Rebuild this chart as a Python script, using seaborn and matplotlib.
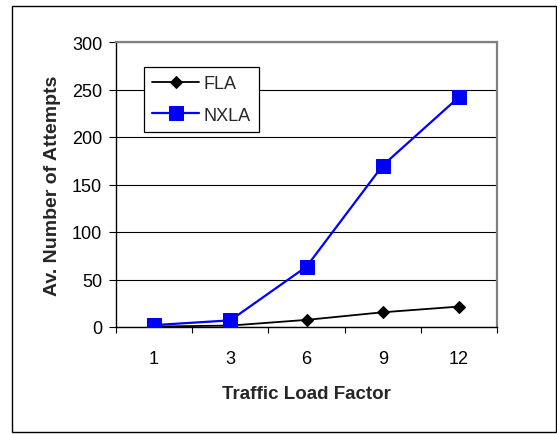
import matplotlib
matplotlib.use("Agg")
import matplotlib.pyplot as plt
from matplotlib.patches import Rectangle
import seaborn as sns
import pandas as pd

# Traffic load factors (categorical axis) and average attempts per scheme
load_factors = ["1", "3", "6", "9", "12"]
fla_attempts = [0.5, 1.5, 7.5, 15.5, 21.5]
nxla_attempts = [2, 7, 63.5, 170, 242]
y_ticks = [0, 50, 100, 150, 200, 250, 300]

df = pd.DataFrame({
    "load": load_factors * 2,
    "attempts": fla_attempts + nxla_attempts,
    "scheme": ["FLA"] * len(load_factors) + ["NXLA"] * len(load_factors),
})

sns.set_style("white")
plt.rcParams["font.family"] = ["Liberation Sans", "DejaVu Sans"]

fig = plt.figure(figsize=(5.57, 4.35), dpi=100)
ax = fig.add_axes([116 / 557, 1 - 328 / 435, (497 - 116) / 557, (328 - 43) / 435])

styles = {
    "FLA": dict(color="#000000", marker="D", markersize=6.5, linewidth=1.3),
    "NXLA": dict(color="#0000FF", marker="s", markersize=10, linewidth=1.6),
}
for name, sub in df.groupby("scheme", sort=False):
    st = styles[name]
    sns.lineplot(data=sub, x="load", y="attempts", ax=ax, label=name,
                 color=st["color"], marker=st["marker"], markersize=st["markersize"],
                 linewidth=st["linewidth"], markeredgecolor=st["color"],
                 markerfacecolor=st["color"], zorder=3)

ax.set_xlim(-0.5, len(load_factors) - 0.5)
ax.set_ylim(0, 300)
ax.set_yticks(y_ticks)
ax.set_xticks(range(len(load_factors)))
ax.set_xticklabels(load_factors)
ax.set_xticks([i - 0.5 for i in range(len(load_factors) + 1)], minor=True)

ax.yaxis.grid(True, color="#000000", linewidth=0.8)
ax.set_axisbelow(True)

ax.tick_params(axis="x", which="major", length=0, pad=16.5, labelsize=13, colors="black")
ax.tick_params(axis="x", which="minor", length=4.5, width=0.8, direction="out", color="black", bottom=True)
ax.tick_params(axis="y", length=5, width=0.8, direction="out", pad=5, labelsize=13, colors="black", left=True)

for side in ("left", "bottom"):
    ax.spines[side].set_color("black")
    ax.spines[side].set_linewidth(1.0)
for side in ("top", "right"):
    ax.spines[side].set_color("#808080")
    ax.spines[side].set_linewidth(1.6)

ax.set_xlabel("Traffic Load Factor", fontsize=13.5, fontweight="bold", labelpad=13)
ax.set_ylabel("Av. Number of Attempts", fontsize=14, fontweight="bold", labelpad=8)

leg = ax.legend(loc="upper left", bbox_to_anchor=(144 / 557, 1 - 68 / 435),
                bbox_transform=fig.transFigure, fontsize=13, frameon=True,
                fancybox=False, edgecolor="black", framealpha=1,
                handlelength=2.6, handletextpad=0.25, borderpad=0.45,
                labelspacing=0.8, borderaxespad=0)
leg.get_frame().set_linewidth(0.9)

fig.patches.append(Rectangle((12 / 557, 2 / 435), (556 - 12) / 557, (428 - 2) / 435,
                             transform=fig.transFigure, fill=False,
                             edgecolor="black", linewidth=1.0))

fig.savefig("out.png", dpi=100)
